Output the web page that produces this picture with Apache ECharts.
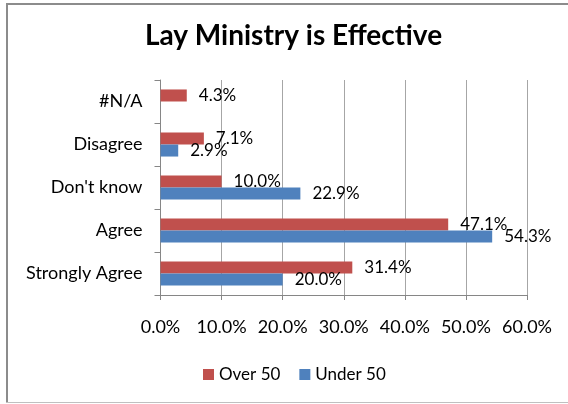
<!DOCTYPE html>
<html>
<head>
<meta charset="utf-8">
<script src="https://cdn.jsdelivr.net/npm/echarts@6/dist/echarts.min.js"></script>
<style>
html,body{margin:0;padding:0;background:#fff;}
#c{width:568px;height:404px;}
</style>
</head>
<body>
<div id="c"></div>
<script>
const categories = ['Strongly Agree', 'Agree', "Don't know", 'Disagree', '#N/A'];
const over50 = [31.4, 47.1, 10.0, 7.1, 4.3];
const under50 = [20.0, 54.3, 22.9, 2.9, null];
const xTicks = [0, 10, 20, 30, 40, 50, 60];
const seriesNames = ['Over 50', 'Under 50'];
const colors = ['#C0504D', '#4F81BD'];
const FONT = 'Lato';

const chart = echarts.init(document.getElementById('c'), null, {renderer: 'canvas'});
const labelCfg = {
  show: true, position: 'right', distance: 12,
  fontFamily: FONT, fontSize: 17, color: '#000',
  formatter: p => p.value == null ? '' : p.value.toFixed(1) + '%'
};
chart.setOption({
  animation: false,
  title: {
    text: 'Lay Ministry is Effective',
    left: 288.5, textAlign: 'center', top: 17,
    textStyle: {fontFamily: FONT, fontWeight: 'bold', fontSize: 28, color: '#000'}
  },
  grid: {left: 160.5, right: 41, top: 80, bottom: 109, containLabel: false},
  xAxis: {
    type: 'value', min: xTicks[0], max: xTicks[xTicks.length - 1], interval: 10,
    axisLine: {show: true, lineStyle: {color: '#868686', width: 1}},
    axisTick: {show: true, length: 5, lineStyle: {color: '#868686'}},
    splitLine: {show: true, lineStyle: {color: '#a6a6a6', width: 1}},
    axisLabel: {fontFamily: FONT, fontSize: 18, color: '#000', margin: 23,
      formatter: v => v.toFixed(1) + '%'}
  },
  yAxis: {
    type: 'category', data: categories,
    axisLine: {show: true, lineStyle: {color: '#868686', width: 1}},
    axisTick: {show: true, length: 6, lineStyle: {color: '#868686'}},
    axisLabel: {fontFamily: FONT, fontSize: 18, color: '#000', margin: 18}
  },
  legend: {
    data: seriesNames, left: 198, top: 361, itemWidth: 11, itemHeight: 11, itemGap: 19,
    icon: 'rect',
    textStyle: {fontFamily: FONT, fontSize: 17, color: '#000', padding: [0, 0, 0, 0]}
  },
  series: [
    {name: seriesNames[0], type: 'bar', data: over50, itemStyle: {color: colors[0]},
      barGap: '0%', barCategoryGap: '44%', label: labelCfg},
    {name: seriesNames[1], type: 'bar', data: under50, itemStyle: {color: colors[1]},
      barGap: '0%', barCategoryGap: '44%', label: labelCfg}
  ],
  graphic: [
    {type: 'line', shape: {x1: 6, y1: 4, x2: 568, y2: 4}, style: {stroke: '#8c8c8c', lineWidth: 2}, silent: true},
    {type: 'line', shape: {x1: 7, y1: 3, x2: 7, y2: 403}, style: {stroke: '#8c8c8c', lineWidth: 2}, silent: true},
    {type: 'line', shape: {x1: 6, y1: 402.5, x2: 568, y2: 402.5}, style: {stroke: '#c0c0c0', lineWidth: 1}, silent: true}
  ]
});
</script>
</body>
</html>
